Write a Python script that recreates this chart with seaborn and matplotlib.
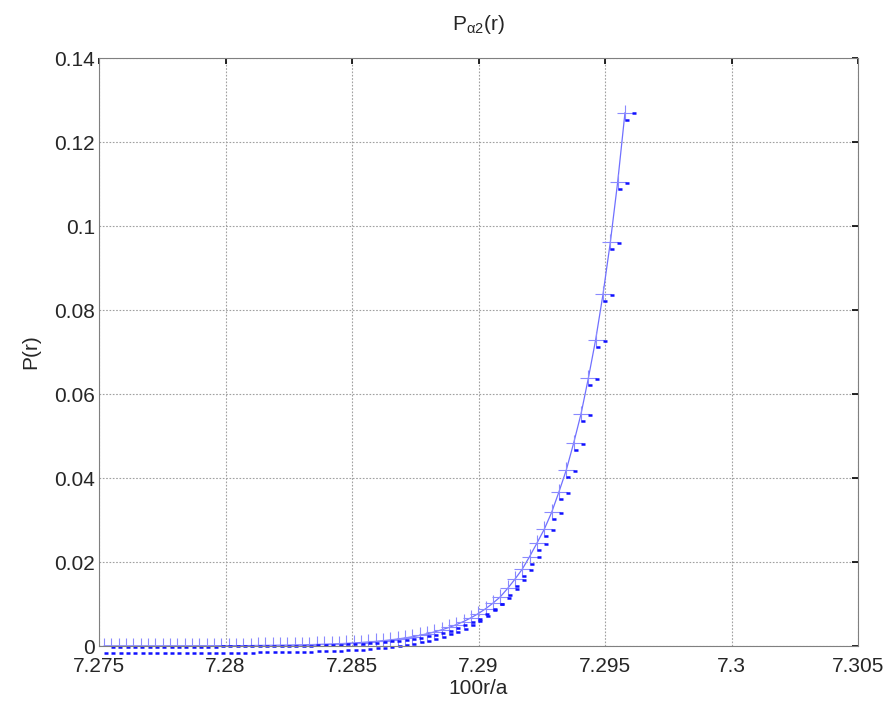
import matplotlib
matplotlib.use("Agg")
import matplotlib.pyplot as plt
import matplotlib.transforms as mtransforms
import seaborn as sns
import numpy as np

x_vals = [7.27520, 7.27549, 7.27578, 7.27607, 7.27636, 7.27665, 7.27694, 7.27723,
          7.27752, 7.27781, 7.27810, 7.27839, 7.27868, 7.27897, 7.27926, 7.27955,
          7.27984, 7.28013, 7.28042, 7.28071, 7.28100, 7.28129, 7.28158, 7.28187,
          7.28216, 7.28245, 7.28274, 7.28303, 7.28332, 7.28361, 7.28390, 7.28419,
          7.28448, 7.28477, 7.28506, 7.28535, 7.28564, 7.28593, 7.28622, 7.28651,
          7.28680, 7.28709, 7.28738, 7.28767, 7.28796, 7.28825, 7.28854, 7.28883,
          7.28912, 7.28941, 7.28970, 7.28999, 7.29028, 7.29057, 7.29086, 7.29115,
          7.29144, 7.29173, 7.29202, 7.29231, 7.29260, 7.29289, 7.29318, 7.29347,
          7.29376, 7.29405, 7.29434, 7.29463, 7.29492, 7.29521, 7.29550, 7.29579]
p_vals = [0.000006, 0.000007, 0.000008, 0.000009, 0.000011, 0.000012, 0.000014, 0.000016,
          0.000019, 0.000022, 0.000025, 0.00003, 0.00003, 0.00004, 0.00004, 0.00005,
          0.00006, 0.00007, 0.00008, 0.00009, 0.00010, 0.00012, 0.00013, 0.00015,
          0.00018, 0.00020, 0.00024, 0.00027, 0.00031, 0.00036, 0.00041, 0.00047,
          0.00054, 0.00062, 0.00072, 0.00083, 0.00095, 0.00109, 0.00125, 0.00144,
          0.00166, 0.00191, 0.00219, 0.00252, 0.00290, 0.00334, 0.00384, 0.00441,
          0.00507, 0.00583, 0.00671, 0.00771, 0.00887, 0.0102, 0.0117, 0.0137,
          0.0159, 0.0183, 0.0213, 0.0245, 0.0278, 0.0318, 0.0367, 0.0419,
          0.0483, 0.0552, 0.0637, 0.0729, 0.0837, 0.0961, 0.1104, 0.1270]

x_ticks = [7.275, 7.28, 7.285, 7.29, 7.295, 7.3, 7.305]
x_tick_labels = ["7.275", "7.28", "7.285", "7.29", "7.295", "7.3", "7.305"]
y_ticks = [0, 0.02, 0.04, 0.06, 0.08, 0.1, 0.12, 0.14]
y_tick_labels = ["0", "0.02", "0.04", "0.06", "0.08", "0.1", "0.12", "0.14"]

sns.set_theme(style="white")
plt.rcParams['font.family'] = ['Liberation Sans', 'DejaVu Sans']
plt.rcParams['mathtext.default'] = 'regular'

fig = plt.figure(figsize=(8.89, 7.10), dpi=100)
ax = fig.add_axes([99/889, 1 - 646/710, (858 - 99)/889, (646 - 58)/710])

line_color = '#7070ff'
sns.lineplot(x=x_vals, y=p_vals, ax=ax, color=line_color, linewidth=0.9,
             marker='+', markersize=11, markeredgewidth=0.8,
             markeredgecolor='#8a8aff', estimator=None, sort=False)

# small dark dash marks accompanying each marker
dpi = fig.dpi
t_right = mtransforms.offset_copy(ax.transData, fig=fig, x=9/dpi, y=-0.7/dpi, units='inches')
t_low = mtransforms.offset_copy(ax.transData, fig=fig, x=2/dpi, y=-7/dpi, units='inches')
for tr in (t_right, t_low):
    ax.plot(x_vals, p_vals, linestyle='none', marker='_', markersize=3.5,
            markeredgewidth=1.8, color='#1010ff', transform=tr, clip_on=False)

ax.set_xlim(7.275, 7.305)
ax.set_ylim(0, 0.14)
ax.set_xticks(x_ticks)
ax.set_xticklabels(x_tick_labels)
ax.set_yticks(y_ticks)
ax.set_yticklabels(y_tick_labels)

ax.grid(True, color='#a0a0a0', linestyle=(0, (1.5, 1.5)), linewidth=0.8)
for s in ax.spines.values():
    s.set_visible(True)
    s.set_color('#808080')
    s.set_linewidth(0.8)

ax.tick_params(axis='both', which='both', direction='in', length=4, width=1.2,
               color='black', labelsize=15, top=True, right=True)
ax.tick_params(axis='x', pad=8)
ax.tick_params(axis='y', pad=3)

ax.set_xlabel('100r/a', fontsize=15, labelpad=2)
ax.set_ylabel('P(r)', fontsize=15, labelpad=10)
ax.set_title(r'P$_{\alpha 2}$(r)', fontsize=15, pad=20)

fig.savefig('out.png', dpi=100)
